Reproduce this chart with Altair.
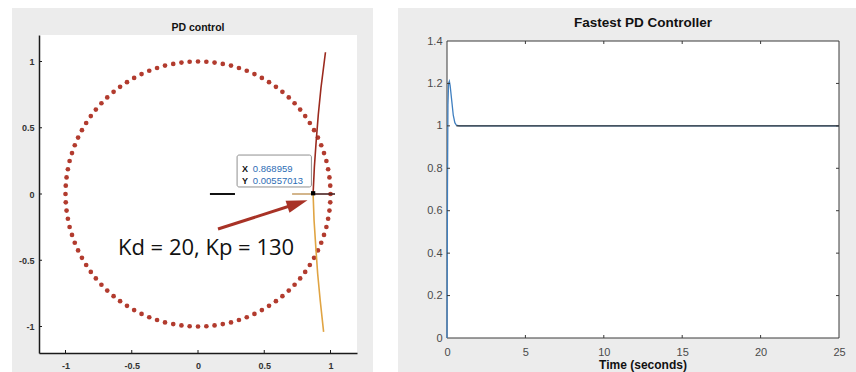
import altair as alt
import pandas as pd

# ---------------- left panel data (root locus, z-plane) ----------------
circle_x = [
    1.000, 0.998, 0.992, 0.982, 0.969, 0.951, 0.930, 0.905, 0.876, 0.844, 0.809, 0.771, 0.729,
    0.685, 0.637, 0.588, 0.536, 0.482, 0.426, 0.368, 0.309, 0.249, 0.187, 0.125, 0.063,
    0.000, -0.063, -0.125, -0.187, -0.249, -0.309, -0.368, -0.426, -0.482, -0.536, -0.588, -0.637, -0.685,
    -0.729, -0.771, -0.809, -0.844, -0.876, -0.905, -0.930, -0.951, -0.969, -0.982, -0.992, -0.998,
    -1.000, -0.998, -0.992, -0.982, -0.969, -0.951, -0.930, -0.905, -0.876, -0.844, -0.809, -0.771, -0.729,
    -0.685, -0.637, -0.588, -0.536, -0.482, -0.426, -0.368, -0.309, -0.249, -0.187, -0.125, -0.063,
    0.000, 0.063, 0.125, 0.187, 0.249, 0.309, 0.368, 0.426, 0.482, 0.536, 0.588, 0.637, 0.685,
    0.729, 0.771, 0.809, 0.844, 0.876, 0.905, 0.930, 0.951, 0.969, 0.982, 0.992, 0.998,
]
circle_y = [
    0.000, 0.063, 0.125, 0.187, 0.249, 0.309, 0.368, 0.426, 0.482, 0.536, 0.588, 0.637, 0.685,
    0.729, 0.771, 0.809, 0.844, 0.876, 0.905, 0.930, 0.951, 0.969, 0.982, 0.992, 0.998,
    1.000, 0.998, 0.992, 0.982, 0.969, 0.951, 0.930, 0.905, 0.876, 0.844, 0.809, 0.771, 0.729,
    0.685, 0.637, 0.588, 0.536, 0.482, 0.426, 0.368, 0.309, 0.249, 0.187, 0.125, 0.063,
    0.000, -0.063, -0.125, -0.187, -0.249, -0.309, -0.368, -0.426, -0.482, -0.536, -0.588, -0.637, -0.685,
    -0.729, -0.771, -0.809, -0.844, -0.876, -0.905, -0.930, -0.951, -0.969, -0.982, -0.992, -0.998,
    -1.000, -0.998, -0.992, -0.982, -0.969, -0.951, -0.930, -0.905, -0.876, -0.844, -0.809, -0.771, -0.729,
    -0.685, -0.637, -0.588, -0.536, -0.482, -0.426, -0.368, -0.309, -0.249, -0.187, -0.125, -0.063,
]
upper_x = [0.869, 0.878, 0.892, 0.908, 0.928, 0.962]
upper_y = [0.006, 0.200, 0.400, 0.600, 0.800, 1.070]
lower_x = [0.869, 0.876, 0.889, 0.903, 0.922, 0.948]
lower_y = [-0.006, -0.200, -0.400, -0.600, -0.800, -1.040]
black_seg_x = [0.09, 0.279]
tan_seg_x = [0.71, 0.869]
dark_seg_x = [0.869, 1.034]
tip_x = [0.868959]
tip_y = [0.00557013]
tip_labels = ["X", "Y"]
tip_values = ["0.868959", "0.00557013"]
tip_box_x = [0.295, 0.856]
tip_box_y = [0.053, 0.294]
tip_text_y = [0.188, 0.098]
arrow_start = [0.151, -0.264]
arrow_head = [0.751, -0.072]
annotation = "Kd = 20, Kp = 130"
annotation_pos = [-0.604, -0.46]
left_ticks = [-1, -0.5, 0, 0.5, 1]
left_title = "PD control"

# ---------------- right panel data (step response) ----------------
step_t = [0, 0.03, 0.06, 0.10, 0.15, 0.20, 0.30, 0.40, 0.50, 0.60, 0.80, 1.0, 25]
step_amp = [0, 0.70, 1.10, 1.20, 1.21, 1.19, 1.12, 1.05, 1.015, 1.003, 1.0, 1.0, 1.0]
steady_value = 1.0
right_xticks = [0, 5, 10, 15, 20, 25]
right_yticks = [0, 0.2, 0.4, 0.6, 0.8, 1.0, 1.2, 1.4]
right_title = "Fastest PD Controller"
right_xtitle = "Time (seconds)"
right_ytitle = "Amplitude"

FONT = "Liberation Sans"
GRAY = "#ececec"
LW, LH = 318, 318
RW, RH = 392, 303
RTOP = 1.4 * RH / 297.0

lscale = alt.Scale(domain=[-1.2, 1.2], nice=False, zero=False)


def LX(f, axis=None):
    if axis is None:
        return alt.X(f, type="quantitative", scale=lscale, title=None)
    return alt.X(f, type="quantitative", scale=lscale, axis=axis)


def LY(f, axis=None):
    if axis is None:
        return alt.Y(f, type="quantitative", scale=lscale, title=None)
    return alt.Y(f, type="quantitative", scale=lscale, axis=axis)


one = pd.DataFrame({"a": [0]})

left_axis_common = dict(
    values=left_ticks, labelExpr="datum.value + ''", ticks=False, tickSize=0,
    domainColor="#1a1a1a", domainWidth=1.5, grid=False, labelFont=FONT,
    labelFontSize=9, labelFontWeight="bold", labelColor="#333333",
    labelFlush=False, title=None, zindex=1,
)

l_bg = alt.Chart(one).mark_rect(color=GRAY).encode(
    x=alt.value(-27), x2=alt.value(334), y=alt.value(-27), y2=alt.value(337))
l_white = alt.Chart(one).mark_rect(color="white").encode(
    x=alt.value(0), x2=alt.value(LW), y=alt.value(0), y2=alt.value(LH))
l_title = alt.Chart(pd.DataFrame({"t": [left_title]})).mark_text(
    font=FONT, fontSize=10.5, fontWeight="bold", color="#111111", baseline="middle",
    align="center").encode(x=alt.value(LW / 2), y=alt.value(-7), text="t")

circ = alt.Chart(pd.DataFrame({"x": circle_x, "y": circle_y})).mark_circle(
    color="#b23b2e", size=22, opacity=1).encode(
    x=LX("x", alt.Axis(labelPadding=8, **left_axis_common)),
    y=LY("y", alt.Axis(labelPadding=5, **left_axis_common)),
)

up = alt.Chart(pd.DataFrame({"x": upper_x, "y": upper_y, "i": range(len(upper_x))})).mark_line(
    color="#9b2a1e", strokeWidth=1.6).encode(x=LX("x"), y=LY("y"), order="i:Q")
lo = alt.Chart(pd.DataFrame({"x": lower_x, "y": lower_y, "i": range(len(lower_x))})).mark_line(
    color="#e0a443", strokeWidth=1.6).encode(x=LX("x"), y=LY("y"), order="i:Q")


def seg(xs, color, w):
    return alt.Chart(pd.DataFrame({"x": [xs[0]], "x2": [xs[1]], "y": [0.0]})).mark_rule(
        color=color, strokeWidth=w).encode(x=LX("x"), x2="x2", y=LY("y"))


s_black = seg(black_seg_x, "#111111", 2)
s_tan = seg(tan_seg_x, "#c9a36f", 1.6)
s_dark = seg(dark_seg_x, "#4a2424", 1.6)

box = alt.Chart(pd.DataFrame({"x": [tip_box_x[0]], "x2": [tip_box_x[1]],
                              "y": [tip_box_y[0]], "y2": [tip_box_y[1]]})).mark_rect(
    fill="white", stroke="#8f8f8f", strokeWidth=1, cornerRadius=2).encode(
    x=LX("x"), x2="x2", y=LY("y"), y2="y2")

tip_df = pd.DataFrame({"lab": tip_labels, "val": tip_values, "y": tip_text_y,
                       "xl": [0.332, 0.332], "xv": [0.414, 0.414]})
tip_lab = alt.Chart(tip_df).mark_text(align="left", baseline="middle", font=FONT,
                                      fontSize=9, fontWeight="bold", color="#111111").encode(
    x=LX("xl"), y=LY("y"), text="lab")
tip_val = alt.Chart(tip_df).mark_text(align="left", baseline="middle", font=FONT,
                                      fontSize=9.5, color="#2d6db5").encode(
    x=LX("xv"), y=LY("y"), text="val")

marker = alt.Chart(pd.DataFrame({"x": tip_x, "y": tip_y})).mark_square(
    color="black", size=18, opacity=1).encode(x=LX("x"), y=LY("y"))

shaft = alt.Chart(pd.DataFrame({"x": [arrow_start[0]], "x2": [arrow_head[0]],
                                "y": [arrow_start[1]], "y2": [arrow_head[1]]})).mark_rule(
    color="#a83226", strokeWidth=3).encode(x=LX("x"), x2="x2", y=LY("y"), y2="y2")
head = alt.Chart(pd.DataFrame({"x": [arrow_head[0]], "y": [arrow_head[1]]})).mark_point(
    shape="M1,0L-1,-0.6L-1,0.6Z", filled=True, size=441, angle=342, color="#a83226",
    opacity=1, strokeWidth=0).encode(x=LX("x"), y=LY("y"))

ann = alt.Chart(pd.DataFrame({"x": [annotation_pos[0]], "y": [annotation_pos[1]],
                              "t": [annotation]})).mark_text(
    align="left", baseline="alphabetic", font="Open Sans", fontSize=22, color="#111111").encode(
    x=LX("x"), y=LY("y"), text="t")

tdf = pd.DataFrame({"v": left_ticks})
ltick_x = alt.Chart(tdf).mark_rule(color="#1a1a1a", strokeWidth=1).encode(
    x=LX("v"), y=alt.value(LH), y2=alt.value(LH - 3))
ltick_y = alt.Chart(tdf).mark_rule(color="#1a1a1a", strokeWidth=1).encode(
    y=LY("v"), x=alt.value(0), x2=alt.value(3))

left = alt.layer(
    l_bg, l_white, l_title, circ, up, lo, s_black, s_tan, s_dark, box, tip_lab, tip_val,
    marker, shaft, head, ann, ltick_x, ltick_y,
).properties(width=LW, height=LH)

# ---------------- right panel ----------------
rxs = alt.Scale(domain=[0, 25], nice=False, zero=False)
rys = alt.Scale(domain=[0, RTOP], nice=False, zero=False)


def RX(f, axis=None):
    if axis is None:
        return alt.X(f, type="quantitative", scale=rxs, title=None)
    return alt.X(f, type="quantitative", scale=rxs, axis=axis)


def RY(f, axis=None):
    if axis is None:
        return alt.Y(f, type="quantitative", scale=rys, title=None)
    return alt.Y(f, type="quantitative", scale=rys, axis=axis)


r_bg = alt.Chart(one).mark_rect(color=GRAY).encode(
    x=alt.value(-49), x2=alt.value(409), y=alt.value(-27), y2=alt.value(337))
r_title = alt.Chart(pd.DataFrame({"t": [right_title]})).mark_text(
    font=FONT, fontSize=13.5, fontWeight="bold", color="#111111", baseline="middle",
    align="center").encode(x=alt.value(RW / 2), y=alt.value(-12.5), text="t")
r_xtitle = alt.Chart(pd.DataFrame({"t": [right_xtitle]})).mark_text(
    font=FONT, fontSize=12, fontWeight="bold", color="#111111", baseline="middle",
    align="center").encode(x=alt.value(RW / 2), y=alt.value(RH + 27), text="t")

frame = alt.Chart(pd.DataFrame({"x": [0], "x2": [25], "y": [0], "y2": [1.4]})).mark_rect(
    fill="white", stroke="#3a3a3a", strokeWidth=1).encode(
    x=RX("x", alt.Axis(values=right_xticks, labelExpr="datum.value + ''", ticks=False,
                       tickSize=0, domain=False, grid=False, labelFont=FONT, labelFontSize=11,
                       labelColor="#4a4a4a", labelPadding=8, labelFlush=False,
                       title=None, zindex=1)),
    x2="x2",
    y=RY("y", alt.Axis(values=right_yticks, labelExpr="datum.value + ''", ticks=False,
                       tickSize=0, domain=False, grid=False, labelFont=FONT, labelFontSize=11,
                       labelColor="#4a4a4a", labelPadding=5, labelFlush=False,
                       title=right_ytitle, titleFont=FONT, titleFontSize=12.5,
                       titleFontWeight="bold", titleColor="#111111", titlePadding=2, zindex=1)),
    y2="y2",
)

resp = alt.Chart(pd.DataFrame({"t": step_t, "a": step_amp})).mark_line(
    color="#3f7fc0", strokeWidth=1.3).encode(x=RX("t"), y=RY("a"))
steady = alt.Chart(pd.DataFrame({"x": [0.6], "x2": [25], "y": [steady_value]})).mark_rule(
    color="#3a3a3a", strokeWidth=1.2).encode(x=RX("x"), x2="x2", y=RY("y"))

xt = pd.DataFrame({"v": right_xticks[1:-1]})
yt = pd.DataFrame({"v": right_yticks[1:-1]})
y14 = RH - 297
rt_b = alt.Chart(xt).mark_rule(color="#3a3a3a").encode(x=RX("v"), y=alt.value(RH), y2=alt.value(RH - 3))
rt_t = alt.Chart(xt).mark_rule(color="#3a3a3a").encode(x=RX("v"), y=alt.value(y14), y2=alt.value(y14 + 3))
rt_l = alt.Chart(yt).mark_rule(color="#3a3a3a").encode(y=RY("v"), x=alt.value(0), x2=alt.value(3))
rt_r = alt.Chart(yt).mark_rule(color="#3a3a3a").encode(y=RY("v"), x=alt.value(RW), x2=alt.value(RW - 3))

right = alt.layer(r_bg, r_title, r_xtitle, frame, resp, steady, rt_b, rt_t, rt_l, rt_r).properties(
    width=RW, height=RH)

chart = alt.hconcat(left, right, spacing=90, bounds="flush").properties(
    padding={"left": 12, "top": 8, "right": 0, "bottom": 0},
    background="white",
).configure_view(stroke=None)

chart.save("out.html", embed_options={"renderer": "svg", "actions": False})
